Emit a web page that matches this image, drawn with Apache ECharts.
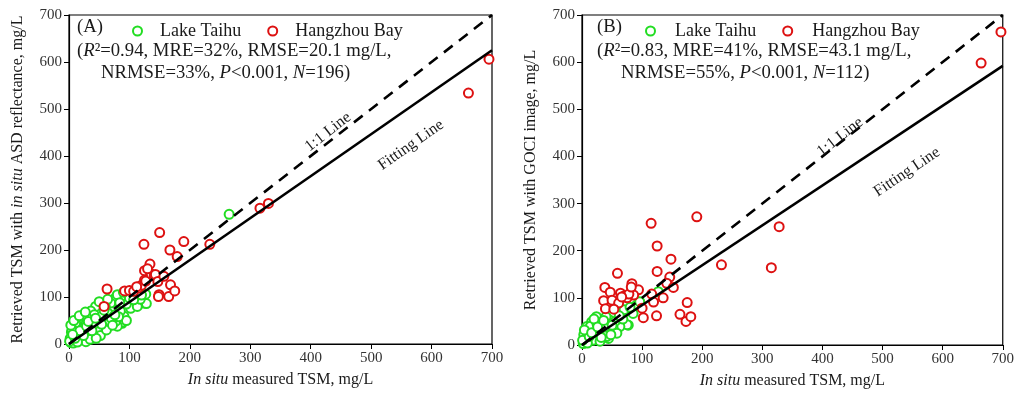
<!DOCTYPE html>
<html><head><meta charset="utf-8">
<script src="https://cdn.jsdelivr.net/npm/echarts@6/dist/echarts.min.js"></script>
<style>html,body{margin:0;padding:0;background:#fff}#c{width:1017px;height:400px}</style>
</head><body><div id="c"></div>
<script>
// ---- data ----
const seriesNames = ['Lake Taihu', 'Hangzhou Bay'];
const axisTicks = [0, 100, 200, 300, 400, 500, 600, 700];

const taihuA = [[265,276],[78,100],[80,105],[93,101],[104,87],[116,91],[124,87],[127,106],[128,86],[102,76],[113,80],[91,59],[88,44],[86,45],[80,38],[77,48],[74,73],[69,87],[60,80],[52,69],[44,80],[35,59],[24,62],[22,48],[49,48],[60,51],[66,44],[57,34],[46,37],[33,34],[41,19],[30,23],[13,23],[8,37],[5,16],[19,9],[10,5],[3,3],[6,10],[15,15],[12,30],[18,40],[25,30],[28,45],[38,50],[36,70],[42,62],[55,60],[65,65],[70,55],[85,70],[95,85],[110,100],[118,95],[4,25],[2,12],[9,18],[20,22],[26,14],[33,18],[15,52],[30,55],[48,28],[52,18],[62,30],[40,40],[22,32],[16,8],[28,5],[7,2],[35,10],[45,12],[11,45],[95,50],[82,58],[72,40],[100,98],[120,104],[90,110],[1,6],[5,30],[14,4],[24,18],[18,28],[10,12],[38,28],[54,42],[29,38],[6,20],[3,40],[8,50],[17,60],[27,68],[32,48],[44,55],[58,72],[50,90],[64,95],[76,62],[84,88],[107,94]];
const hangzhouA = [[63,117],[92,113],[100,114],[107,112],[115,119],[120,125],[125,136],[127,134],[134,170],[125,156],[136,149],[141,145],[143,148],[147,133],[157,144],[149,105],[148,101],[165,101],[168,126],[175,113],[124,212],[150,237],[167,200],[179,186],[190,218],[233,212],[316,289],[330,299],[661,534],[695,606],[58,80],[112,122],[130,160]];
const taihuB = [[127,113],[91,85],[96,92],[85,67],[77,42],[75,43],[63,39],[44,14],[41,18],[24,60],[16,49],[8,39],[10,21],[33,46],[46,53],[52,35],[35,25],[22,14],[5,7],[2,3],[12,30],[20,35],[28,28],[18,10],[30,8],[6,15],[3,22],[14,40],[38,38],[25,45],[40,60],[55,50],[68,55],[58,25],[48,22],[9,4],[1,10],[32,16],[20,55],[12,18],[70,75],[80,80],[4,32],[16,26],[26,38],[36,52],[50,42],[62,62]];
const hangzhouB = [[191,272],[115,258],[125,210],[148,182],[232,170],[328,251],[315,164],[59,152],[125,156],[146,144],[141,131],[152,122],[83,130],[94,117],[38,122],[47,112],[64,110],[86,106],[36,94],[50,95],[61,89],[39,77],[53,76],[116,108],[135,100],[119,91],[100,78],[102,58],[124,62],[175,90],[163,65],[173,50],[181,60],[70,104],[75,100],[78,108],[66,102],[82,123],[664,598],[697,664]];
const oneToOne = [[0,0],[700,700]];
const fitA = [[0,0],[700,625]];
const fitB = [[0,0],[700,592]];

// ---- styling ----
const GREEN = '#22dd22', RED = '#dd1111', INK = '#1a1a1a';
const FONT = 'Liberation Serif, Times New Roman, serif';

function xAxisFor(gi) {
  return {
    gridIndex: gi, type: 'value', min: 0, max: 700, interval: 100,
    name: '{i|In situ} measured TSM, mg/L', nameLocation: 'middle', nameGap: 28,
    nameTextStyle: { fontFamily: FONT, fontSize: 16, color: INK, rich: { i: { fontFamily: FONT, fontSize: 16, fontStyle: 'italic', color: INK } } },
    axisLine: { lineStyle: { color: '#000', width: 1.2 } },
    axisTick: { inside: false, length: 5, lineStyle: { color: '#000' } },
    axisLabel: { fontFamily: FONT, fontSize: 15, color: '#333', margin: 7,
      formatter: v => axisTicks.includes(v) ? String(v) : '' },
    splitLine: { show: false }
  };
}
function yAxisFor(gi, name, gap) {
  return {
    gridIndex: gi, type: 'value', min: 0, max: 700, interval: 100,
    name: name, nameLocation: 'middle', nameGap: gap, nameRotate: 90,
    nameTextStyle: { fontFamily: FONT, fontSize: 16, color: INK, rich: { i: { fontFamily: FONT, fontSize: 16, fontStyle: 'italic', color: INK } } },
    axisLine: { lineStyle: { color: '#000', width: 1.2 } },
    axisTick: { inside: false, length: 5, lineStyle: { color: '#000' } },
    axisLabel: { fontFamily: FONT, fontSize: 15, color: '#333', margin: 7,
      formatter: v => axisTicks.includes(v) ? String(v) : '' },
    splitLine: { show: false }
  };
}
function scatter(name, data, color, gi) {
  return { name: name, type: 'scatter', xAxisIndex: gi, yAxisIndex: gi, data: data,
    symbol: 'emptyCircle', symbolSize: 9, z: 2,
    itemStyle: { color: color, borderColor: color, borderWidth: 2.6, opacity: 1 } };
}
function line(data, dashed, gi) {
  return { type: 'line', xAxisIndex: gi, yAxisIndex: gi, data: data, symbol: 'none', silent: true, z: 5,
    lineStyle: { color: '#000', width: 2.6, type: dashed ? [11, 8] : 'solid' } };
}
function legendFor(left, pad, gap) {
  return { data: seriesNames, left: left, top: 17, orient: 'horizontal', itemWidth: 9, itemHeight: 9, itemGap: gap,
    itemStyle: { borderWidth: 2.8 }, selectedMode: false,
    textStyle: { fontFamily: FONT, fontSize: 18, color: INK, padding: [0, 0, 0, pad] } };
}
const rich = { i: { fontFamily: FONT, fontSize: 18.7, fontStyle: 'italic', color: INK } };
function txt(left, top, text) {
  return { type: 'text', left: left, top: top, z: 10,
    style: { text: text, fontFamily: FONT, fontSize: 18.7, fill: INK, rich: rich } };
}
function rotLabel(x, y, text, deg) {
  return { type: 'text', x: x, y: y, rotation: deg * Math.PI / 180, z: 10,
    style: { text: text, fontFamily: FONT, fontSize: 16, fill: INK, align: 'center', verticalAlign: 'middle' } };
}

const chart = echarts.init(document.getElementById('c'), null, { renderer: 'canvas' });
chart.setOption({
  backgroundColor: '#fff',
  animation: false,
  grid: [
    { left: 69, top: 15, width: 423, height: 329, show: true, borderColor: '#000', borderWidth: 1.2, backgroundColor: 'transparent' },
    { left: 582, top: 15, width: 422, height: 330, show: true, borderColor: '#000', borderWidth: 1.2, backgroundColor: 'transparent' }
  ],
  xAxis: [xAxisFor(0), xAxisFor(1)],
  yAxis: [
    yAxisFor(0, 'Retrieved TSM with {i|in situ} ASD reflectance, mg/L', 43),
    yAxisFor(1, 'Retrieved TSM with GOCI image, mg/L', 43)
  ],
  legend: [legendFor(127, 13, 26), legendFor(640, 15, 26)],
  series: [
    scatter(seriesNames[0], taihuA, GREEN, 0),
    scatter(seriesNames[1], hangzhouA, RED, 0),
    line(oneToOne, true, 0),
    line(fitA, false, 0),
    scatter(seriesNames[0], taihuB, GREEN, 1),
    scatter(seriesNames[1], hangzhouB, RED, 1),
    line(oneToOne, true, 1),
    line(fitB, false, 1)
  ],
  graphic: [
    txt(77, 18, '(A)'),
    txt(77, 42, '({i|R}²=0.94, MRE=32%, RMSE=20.1 mg/L,'),
    txt(101, 64, 'NRMSE=33%, {i|P}<0.001, {i|N}=196)'),
    txt(597, 18, '(B)'),
    txt(597, 42, '({i|R}²=0.83, MRE=41%, RMSE=43.1 mg/L,'),
    txt(621, 64, 'NRMSE=55%, {i|P}<0.001, {i|N}=112)'),
    rotLabel(328, 132, '1:1 Line', 38),
    rotLabel(411, 145, 'Fitting Line', 35),
    rotLabel(840, 137, '1:1 Line', 38),
    rotLabel(907, 172, 'Fitting Line', 34)
  ]
});
</script></body></html>
